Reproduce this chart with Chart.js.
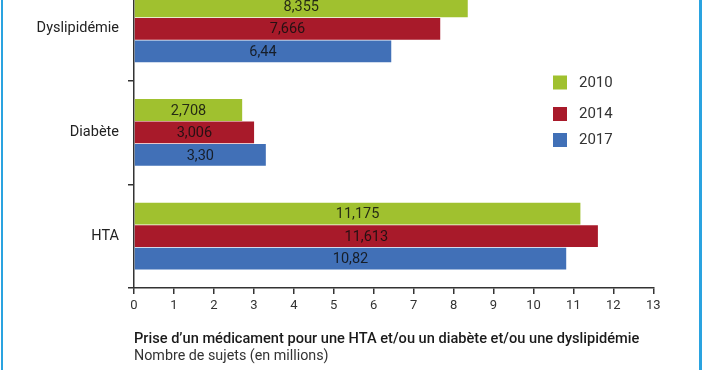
<!DOCTYPE html>
<html>
<head>
<meta charset="utf-8">
<script src="https://cdn.jsdelivr.net/npm/chart.js@4"></script>
<style>
html,body{margin:0;padding:0;background:#fff;width:702px;height:370px;overflow:hidden;}
#wrap{position:absolute;left:0;top:-25px;width:702px;height:395px;}
#frameL{position:absolute;left:1px;top:0;width:2px;height:370px;background:#2AA3E0;}
#frameR{position:absolute;left:699px;top:0;width:3px;height:370px;background:#2AA3E0;}
</style>
</head>
<body>
<div id="wrap"><canvas id="c"></canvas></div>
<div id="frameL"></div><div id="frameR"></div>
<script>
const categories = ['Dyslipidémie', 'Diabète', 'HTA'];
const seriesNames = ['2010', '2014', '2017'];
const values2010 = [8.355, 2.708, 11.175];
const values2014 = [7.666, 3.006, 11.613];
const values2017 = [6.44, 3.30, 10.82];
const labels2010 = ['8,355', '2,708', '11,175'];
const labels2014 = ['7,666', '3,006', '11,613'];
const labels2017 = ['6,44', '3,30', '10,82'];
const xTickLabels = ['0','1','2','3','4','5','6','7','8','9','10','11','12','13'];
const xTitle = 'Prise d’un médicament pour une HTA et/ou un diabète et/ou une dyslipidémie';
const xSubtitle = 'Nombre de sujets (en millions)';

const FONT = 'Roboto';

const valueLabelPlugin = {
  id: 'valueLabels',
  afterDatasetsDraw(chart) {
    const ctx = chart.ctx;
    ctx.save();
    ctx.font = '14.5px ' + FONT;
    ctx.fillStyle = 'rgba(15,15,15,0.85)';
    ctx.textAlign = 'center';
    ctx.textBaseline = 'middle';
    chart.data.datasets.forEach((ds, i) => {
      const meta = chart.getDatasetMeta(i);
      meta.data.forEach((bar, j) => {
        ctx.fillText(ds.valueLabels[j], (bar.x + bar.base) / 2, bar.y + 1);
      });
    });
    ctx.restore();
  }
};

const sideLegendPlugin = {
  id: 'sideLegend',
  afterDraw(chart) {
    const o = chart.options.plugins.sideLegend;
    const ctx = chart.ctx;
    ctx.save();
    chart.data.datasets.forEach((ds, i) => {
      const cy = o.rows[i];
      ctx.fillStyle = ds.backgroundColor;
      ctx.fillRect(o.x, cy - o.box / 2, o.box, o.box);
      ctx.fillStyle = o.color;
      ctx.font = o.font;
      ctx.textAlign = 'left';
      ctx.textBaseline = 'middle';
      ctx.fillText(ds.label, o.textX, cy + 0.5);
    });
    ctx.restore();
  }
};

new Chart(document.getElementById('c'), {
  type: 'bar',
  data: {
    labels: categories,
    datasets: [
      { label: seriesNames[0], data: values2010, valueLabels: labels2010, backgroundColor: '#A0C12F' },
      { label: seriesNames[1], data: values2014, valueLabels: labels2014, backgroundColor: '#A81A2A' },
      { label: seriesNames[2], data: values2017, valueLabels: labels2017, backgroundColor: '#4170B7' }
    ]
  },
  options: {
    indexAxis: 'y',
    responsive: true,
    maintainAspectRatio: false,
    animation: false,
    devicePixelRatio: 1,
    datasets: { bar: { categoryPercentage: 0.65, barPercentage: 0.97, borderWidth: 0 } },
    layout: { padding: { top: 2, right: 48.7, bottom: 4.5, left: 0 } },
    scales: {
      x: {
        type: 'linear',
        min: 0, max: 13,
        ticks: { stepSize: 1, font: { family: FONT, size: 13 }, color: '#333', padding: 4,
                 callback: (v, i) => xTickLabels[i] },
        grid: { drawOnChartArea: false, drawTicks: true, tickLength: 6, color: '#333', lineWidth: 1.5 },
        border: { display: true, color: '#333', width: 1.5 },
        afterFit(scale) { scale.height = 30; scale.paddingLeft = 0; }
      },
      y: {
        offset: true,
        ticks: { font: { family: FONT, size: 14.5 }, color: '#222', padding: 9 },
        grid: { offset: true, drawOnChartArea: false, drawTicks: true, tickLength: 6, color: '#333', lineWidth: 1.5 },
        border: { display: true, color: '#333', width: 1.5 },
        afterFit(scale) { scale.width = 134; scale.paddingTop = 0; scale.paddingBottom = 0; }
      }
    },
    plugins: {
      legend: { display: false },
      tooltip: { enabled: false },
      title: { display: true, text: xTitle, position: 'bottom', align: 'start', fullSize: false, weight: 10,
               font: { family: FONT, size: 14.6, weight: '500', lineHeight: 1.2 }, color: '#1a1a1a', padding: { top: 12.3, bottom: 0 } },
      subtitle: { display: true, text: xSubtitle, position: 'bottom', align: 'start', fullSize: false, weight: 20,
                  font: { family: FONT, size: 14.3, weight: 'normal', lineHeight: 1.2 }, color: '#333', padding: { top: 0.6, bottom: 0 } },
      sideLegend: { x: 553, box: 14, textX: 579, rows: [107.5, 139, 165], color: '#333', font: '15px ' + FONT }
    }
  },
  plugins: [valueLabelPlugin, sideLegendPlugin]
});
</script>
</body>
</html>
